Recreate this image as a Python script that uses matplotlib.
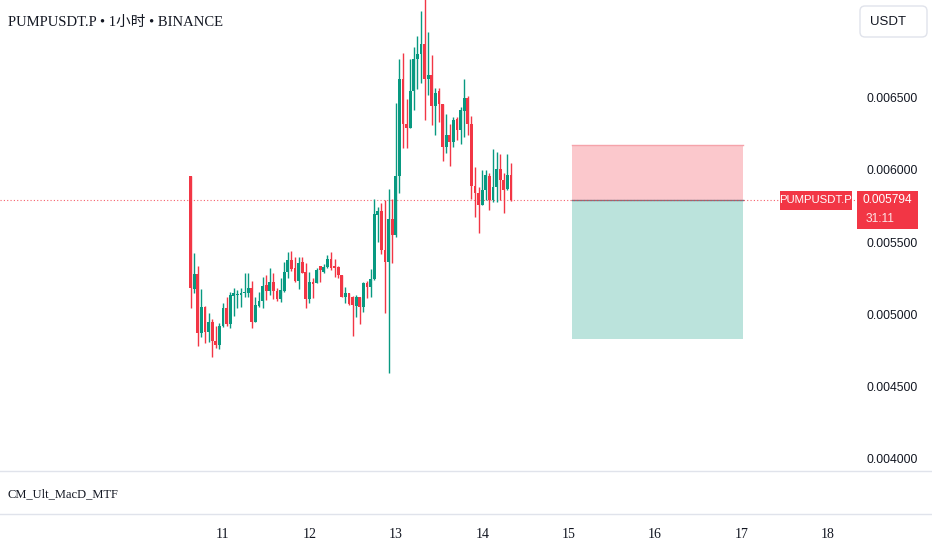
import matplotlib
matplotlib.use('Agg')
import numpy as np
import matplotlib.pyplot as plt
from matplotlib.patches import Rectangle, FancyBboxPatch
from matplotlib.lines import Line2D
from matplotlib.transforms import IdentityTransform, blended_transform_factory

# 1h candles, hour offset from Oct 11 00:00
hours = np.arange(-9, 81)

# prices in units of 1e-6 USDT
opens = [5958, 5173, 5279, 4872, 5053, 4875, 4944, 4815, 4787, 4921,
         5046, 4931, 5127, 5134, 5134, 5145, 5150, 5184, 4949, 5060,
         5094, 5203, 5163, 5222, 5163, 5104, 5163, 5293, 5376, 5319,
         5233, 5364, 5295, 5104, 5226, 5219, 5335, 5295, 5326, 5385,
         5335, 5330, 5272, 5118, 5145, 5122, 5057, 5122, 5053, 5215,
         5187, 5245, 5688, 5718, 5446, 5364, 5658, 5549, 5958, 6631,
         6319, 6291, 6547, 6769, 6804, 6873, 6631, 6658, 6443, 6547,
         6457, 6159, 6243, 6194, 6353, 6277, 6409, 6499, 6319, 5889,
         5841, 5757, 5861, 5958, 5792, 5882, 6007, 5931, 5868, 5965]
highs = [5958, 5423, 5335, 5173, 5060, 5011, 4965, 4919, 4937, 5080,
         5122, 5156, 5180, 5168, 5184, 5288, 5288, 5233, 5118, 5156,
         5256, 5272, 5319, 5288, 5180, 5249, 5364, 5434, 5441, 5399,
         5399, 5399, 5353, 5295, 5249, 5319, 5335, 5348, 5411, 5434,
         5381, 5335, 5272, 5191, 5145, 5127, 5134, 5122, 5222, 5231,
         5312, 5797, 5746, 5769, 5792, 5866, 5797, 6463, 6769, 6811,
         6492, 6769, 6852, 6929, 7102, 7200, 6956, 6797, 6568, 6568,
         6457, 6388, 6319, 6367, 6367, 6437, 6631, 6513, 6374, 6021,
         5882, 6000, 6000, 5979, 6145, 6125, 6111, 5979, 6111, 6048]
lows = [5041, 5150, 4780, 4845, 4803, 4810, 4706, 4764, 4759, 4910,
        4921, 4907, 4988, 5041, 5053, 5118, 5122, 4903, 4944, 5048,
        5041, 5099, 5134, 5104, 5094, 5083, 5156, 5249, 5300, 5226,
        5175, 5284, 5041, 5080, 5115, 5215, 5226, 5288, 5319, 5307,
        5260, 5249, 5118, 5076, 5062, 4852, 4983, 4933, 5018, 5111,
        5122, 5238, 5503, 5418, 5007, 4591, 5357, 5536, 5841, 6152,
        6152, 6291, 6416, 6561, 6603, 6346, 6520, 6312, 6243, 6333,
        6062, 6118, 6028, 6159, 6208, 6180, 6229, 6243, 5799, 5674,
        5563, 5757, 5792, 5723, 5778, 5778, 5792, 5702, 5861, 5785]
closes = [5180, 5277, 4872, 5053, 4879, 4944, 4815, 4787, 4921, 5046,
          4931, 5134, 5145, 5141, 5150, 5156, 5184, 4949, 5064, 5094,
          5198, 5163, 5222, 5163, 5104, 5168, 5293, 5376, 5312, 5233,
          5357, 5288, 5104, 5226, 5210, 5307, 5307, 5330, 5385, 5319,
          5319, 5272, 5122, 5145, 5069, 5064, 5122, 5053, 5215, 5187,
          5245, 5693, 5718, 5446, 5364, 5658, 5549, 5958, 6631, 6319,
          6291, 6547, 6769, 6804, 6873, 6631, 6658, 6443, 6534, 6457,
          6159, 6243, 6194, 6346, 6277, 6416, 6499, 6319, 5889, 5841,
          5757, 5861, 5965, 5792, 5882, 6007, 5931, 5861, 5965, 5794]

last_price = 0.005794
# short position tool
pos_start, pos_end = 97, 144.4
pos_stop, pos_target = 0.006170, 0.004829

price_ticks = [0.0040, 0.0045, 0.0050, 0.0055, 0.0060, 0.0065]
day_ticks = [0, 24, 48, 72, 96, 120, 144, 168]
day_labels = ['11', '12', '13', '14', '15', '16', '17', '18']

UP = '#089981'
DOWN = '#F23645'
serif = ['Liberation Serif', 'Noto Sans CJK SC']
sans = 'Liberation Sans'

o = np.array(opens) / 1e6
h = np.array(highs) / 1e6
l = np.array(lows) / 1e6
c = np.array(closes) / 1e6

W, H = 932, 550
fig = plt.figure(figsize=(W / 100, H / 100), dpi=100)
ax = fig.add_axes([0, 79 / H, 855 / W, 471 / H])
ax2 = fig.add_axes([0, 36 / H, 855 / W, 43 / H], sharex=ax)

colors = np.where(c >= o, UP, DOWN)
ax.vlines(hours, l, h, colors=colors, linewidth=1, zorder=3)
body_h = np.maximum(np.abs(c - o), 0.000007)
ax.bar(hours, body_h, bottom=np.minimum(o, c), width=0.78,
       color=colors, linewidth=0, zorder=4)

# position tool
ax.add_patch(Rectangle((pos_start, last_price), pos_end - pos_start,
                       pos_stop - last_price, facecolor='#fbc8cc',
                       edgecolor='none', zorder=1))
ax.add_patch(Rectangle((pos_start, pos_target), pos_end - pos_start,
                       last_price - pos_target, facecolor='#bbe3dc',
                       edgecolor='none', zorder=1))
ax.plot([pos_start, pos_end], [pos_stop, pos_stop], color='#f5a3aa', lw=1, zorder=2)
ax.plot([pos_start, pos_end], [last_price, last_price], color='#787b86', lw=1, zorder=2)

ax.axhline(last_price, color=DOWN, lw=0.8, ls=(0, (1, 2)), alpha=0.8, zorder=2)

ax.set_xlim(-61.9, 175.5)
ax.set_ylim(0.003914, 0.007178)
ax.set_yticks(price_ticks)
ax.set_yticklabels(['%.6f' % p for p in price_ticks], fontsize=8.8,
                   family=sans, color='#131722')
ax.yaxis.tick_right()
ax.tick_params(axis='y', length=0, pad=8)
ax.tick_params(axis='x', length=0, labelbottom=False)
for a in (ax, ax2):
    for s in a.spines.values():
        s.set_visible(False)

ax2.set_yticks([])
ax2.set_xticks(day_ticks)
ax2.set_xticklabels(day_labels, fontsize=10, family=serif, color='#131722')
ax2.tick_params(axis='x', length=0, pad=10)

for y in (471, 514):
    fig.add_artist(Line2D([0, 1], [1 - y / H, 1 - y / H], transform=fig.transFigure,
                          color='#e0e3eb', lw=1))

fig.text(8 / W, 1 - 22 / H, 'PUMPUSDT.P • 1小时 • BINANCE', family=serif,
         fontsize=10.5, color='#131722', va='center')
fig.text(8 / W, 1 - 494 / H, 'CM_Ult_MacD_MTF', family=serif,
         fontsize=9, color='#131722', va='center')

# currency box
fig.add_artist(FancyBboxPatch((860, H - 37), 67, 31,
                              boxstyle='round,pad=0,rounding_size=5',
                              transform=IdentityTransform(),
                              facecolor='white', edgecolor='#e0e3eb', lw=1))
fig.text(870 / W, 1 - 22 / H, 'USDT', family=sans, fontsize=9.5,
         color='#131722', va='center')

# last price labels
bt = blended_transform_factory(fig.transFigure, ax.transData)
px = 6.93e-6
fig.add_artist(Rectangle((780 / W, last_price - 10 * px), 72 / W, 19 * px,
                         transform=bt, facecolor=DOWN, edgecolor='none'))
fig.text(816 / W, last_price, 'PUMPUSDT.P', transform=bt, family=sans,
         fontsize=8.2, color='white', ha='center', va='center')
fig.add_artist(Rectangle((857 / W, last_price - 29 * px), 61 / W, 38 * px,
                         transform=bt, facecolor=DOWN, edgecolor='none'))
fig.text(887 / W, last_price, '%.6f' % last_price, transform=bt, family=sans,
         fontsize=8.6, color='white', ha='center', va='center')
fig.text(866 / W, last_price - 19 * px, '31:11', transform=bt, family=sans,
         fontsize=8.6, color='#fde4e6', va='center')

fig.savefig('out.png', dpi=100)
